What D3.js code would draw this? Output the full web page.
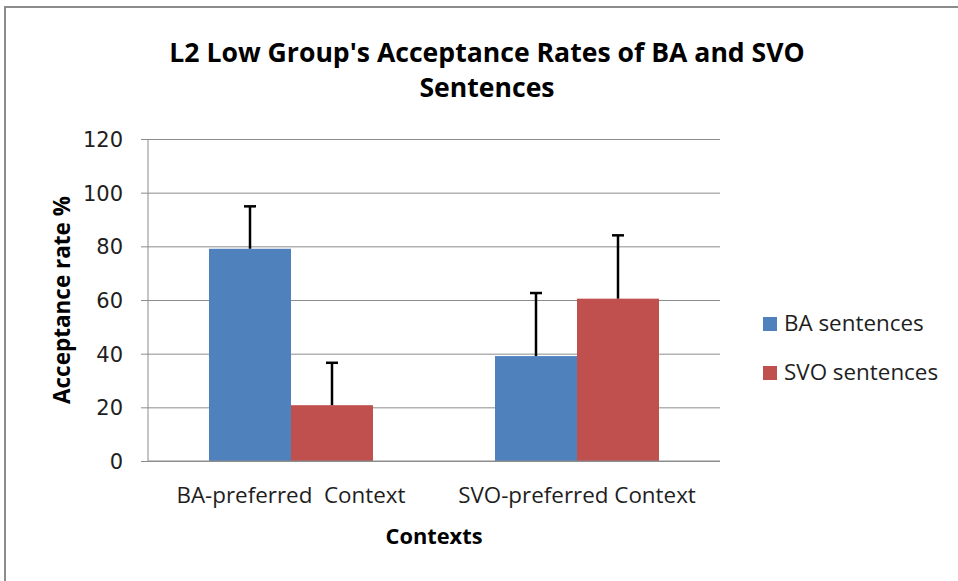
<!doctype html>
<meta charset="utf-8">
<title>L2 Low Group Acceptance Rates</title>
<style>
body { margin: 0; background: #fff; }
svg { display: block; font-family: "Open Sans", sans-serif; }
.grid line { stroke: #8c8c8c; stroke-width: 1; }
.grid path { display: none; }
.tick text { fill: #1e1e1e; font-size: 21px; font-family: "DejaVu Sans", sans-serif; }
</style>
<script src="https://d3js.org/d3.v7.min.js"></script>
<body>
<script>
var width = 958, height = 581;

// chart values
var contexts = ["BA-preferred  Context", "SVO-preferred Context"];
var seriesNames = ["BA sentences", "SVO sentences"];
var baRates = [79.1, 39.1];
var svoRates = [20.8, 60.5];
var baErrors = [15.8, 23.5];
var svoErrors = [15.8, 23.6];
var yTicks = [0, 20, 40, 60, 80, 100, 120];
var colors = ["#4f81bd", "#c0504d"];

var svg = d3.select("body").append("svg")
    .attr("width", width)
    .attr("height", height);

// outer frame
svg.append("rect")
    .attr("x", 5).attr("y", 7)
    .attr("width", 1000).attr("height", 600)
    .attr("fill", "none")
    .attr("stroke", "#8c8c8c")
    .attr("stroke-width", 2);

var pLeft = 148, pRight = 720, pTop = 139, pBottom = 461;

var x = d3.scaleBand()
    .domain(contexts)
    .range([pLeft, pRight]);

var inner = d3.scaleBand()
    .domain(seriesNames)
    .range([0, 164]);

var y = d3.scaleLinear()
    .domain([0, 120])
    .range([pBottom, pTop]);

// gridlines + ticks
svg.append("g")
    .attr("class", "grid")
    .attr("transform", "translate(" + pLeft + ",0)")
    .call(d3.axisLeft(y).tickValues(yTicks).tickSize(-(pRight - pLeft)).tickPadding(0))
    .call(function(g) {
      g.selectAll(".tick line").attr("x1", -7);
      g.selectAll(".tick text").attr("x", -25).attr("dy", "0.36em");
    });

// y axis line
svg.append("line")
    .attr("x1", pLeft).attr("x2", pLeft)
    .attr("y1", pTop).attr("y2", pBottom)
    .attr("stroke", "#8c8c8c");

var rows = contexts.map(function(c, i) {
  return [
    { ctx: c, s: seriesNames[0], v: baRates[i], e: baErrors[i], c: colors[0] },
    { ctx: c, s: seriesNames[1], v: svoRates[i], e: svoErrors[i], c: colors[1] }
  ];
});
var flat = [].concat.apply([], rows);

function bx(d) { return x(d.ctx) + (x.bandwidth() - 164) / 2 + inner(d.s); }

svg.append("g").selectAll("rect")
    .data(flat)
  .enter().append("rect")
    .attr("x", bx)
    .attr("y", function(d) { return y(d.v); })
    .attr("width", inner.bandwidth())
    .attr("height", function(d) { return y(0) - y(d.v); })
    .attr("fill", function(d) { return d.c; });

// error bars (upper only)
var err = svg.append("g").attr("stroke", "#000").attr("stroke-width", 2.5);
err.selectAll("line.stem")
    .data(flat)
  .enter().append("line")
    .attr("class", "stem")
    .attr("x1", function(d) { return bx(d) + inner.bandwidth() / 2; })
    .attr("x2", function(d) { return bx(d) + inner.bandwidth() / 2; })
    .attr("y1", function(d) { return y(d.v); })
    .attr("y2", function(d) { return y(d.v + d.e); });
err.selectAll("line.cap")
    .data(flat)
  .enter().append("line")
    .attr("class", "cap")
    .attr("x1", function(d) { return bx(d) + inner.bandwidth() / 2 - 6; })
    .attr("x2", function(d) { return bx(d) + inner.bandwidth() / 2 + 6; })
    .attr("y1", function(d) { return y(d.v + d.e); })
    .attr("y2", function(d) { return y(d.v + d.e); });

// x axis baseline
svg.append("line")
    .attr("x1", pLeft).attr("x2", pRight)
    .attr("y1", pBottom).attr("y2", pBottom)
    .attr("stroke", "#8c8c8c");

// category labels
svg.append("g").selectAll("text")
    .data(contexts)
  .enter().append("text")
    .attr("x", function(d) { return x(d) + x.bandwidth() / 2; })
    .attr("y", 503)
    .attr("text-anchor", "middle")
    .style("font-size", "22.4px")
    .style("white-space", "pre")
    .attr("fill", "#1e1e1e")
    .text(function(d) { return d; });

// titles
svg.append("text")
    .attr("x", 487).attr("y", 62)
    .attr("text-anchor", "middle")
    .style("font-size", "26.6px").style("font-weight", "bold")
    .text("L2 Low Group's Acceptance Rates of BA and SVO");
svg.append("text")
    .attr("x", 487).attr("y", 97)
    .attr("text-anchor", "middle")
    .style("font-size", "26.6px").style("font-weight", "bold")
    .text("Sentences");

svg.append("text")
    .attr("x", (pLeft + pRight) / 2).attr("y", 544)
    .attr("text-anchor", "middle")
    .style("font-size", "21.8px").style("font-weight", "bold")
    .text("Contexts");

svg.append("text")
    .attr("transform", "translate(70,300) rotate(-90)")
    .attr("text-anchor", "middle")
    .style("font-size", "22.5px").style("font-weight", "bold")
    .text("Acceptance rate %");

// legend
var legend = svg.append("g").selectAll("g")
    .data(seriesNames)
  .enter().append("g")
    .attr("transform", function(d, i) { return "translate(763," + (317 + i * 49) + ")"; });
legend.append("rect")
    .attr("width", 14).attr("height", 14)
    .attr("fill", function(d, i) { return colors[i]; });
legend.append("text")
    .attr("x", 21).attr("y", 14)
    .style("font-size", "22.4px")
    .attr("fill", "#1e1e1e")
    .text(function(d) { return d; });
</script>
</body>
